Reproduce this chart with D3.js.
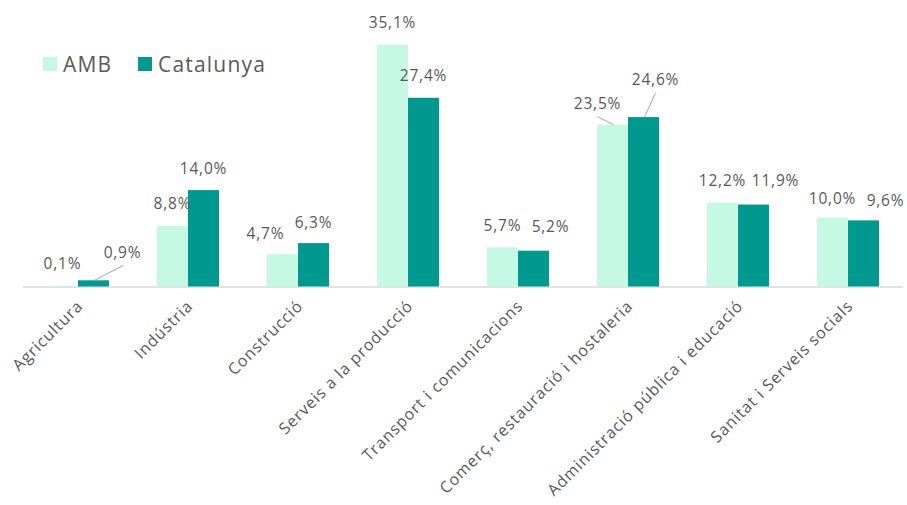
<!DOCTYPE html>
<html>
<head>
<meta charset="utf-8">
<script src="https://cdn.jsdelivr.net/npm/d3@7"></script>
<style>
  html, body { margin: 0; padding: 0; background: #fff; }
  svg text { font-family: "Open Sans", "Noto Sans", sans-serif; fill: #595959; }
</style>
</head>
<body>
<svg id="chart"></svg>
<script>
const categories = ["Agricultura", "Indústria", "Construcció", "Serveis a la producció",
  "Transport i comunicacions", "Comerç, restauració i hostaleria",
  "Administració pública i educació", "Sanitat i Serveis socials"];
const seriesNames = ["AMB", "Catalunya"];
const ambValues = [0.1, 8.8, 4.7, 35.1, 5.7, 23.5, 12.2, 10.0];
const catValues = [0.9, 14.0, 6.3, 27.4, 5.2, 24.6, 11.9, 9.6];

const WIDTH  = 907;
const HEIGHT = 505;
const COLORS = { AMB: "#c6f9e4", Catalunya: "#00988f" };

const svg = d3.select("#chart")
  .attr("width", WIDTH)
  .attr("height", HEIGHT);

const rows = categories.map((c, i) => ({ cat: c, AMB: ambValues[i], Catalunya: catValues[i] }));

const x0 = d3.scaleBand()
  .domain(categories)
  .range([23, 903])
  .paddingInner(0.436)
  .paddingOuter(0.218);

const x1 = d3.scaleBand()
  .domain(seriesNames)
  .range([0, x0.bandwidth()]);

const y = d3.scaleLinear()
  .domain([0, 40])
  .range([286.5, 11]);

// baseline
svg.append("line")
  .attr("x1", 23).attr("x2", 903)
  .attr("y1", y(0) + 0.5).attr("y2", y(0) + 0.5)
  .attr("stroke", "#d9d9d9")
  .attr("stroke-width", 1.5);

// bars
const groups = svg.append("g")
  .selectAll("g")
  .data(rows)
  .join("g")
  .attr("transform", d => "translate(" + x0(d.cat) + ",0)");

groups.selectAll("rect")
  .data(d => seriesNames.map(s => ({ key: s, value: d[s], cat: d.cat })))
  .join("rect")
  .attr("x", d => x1(d.key))
  .attr("y", d => y(d.value))
  .attr("width", x1.bandwidth())
  .attr("height", d => y(0) - y(d.value))
  .attr("fill", d => COLORS[d.key]);

// label nudges (Excel labels that were dragged by hand), [AMB, Catalunya] per category
const nudge = [
  [[0, 0], [29, -6]],
  [[0, 0], [0, 0]],
  [[-17, 1], [0, 1]],
  [[0, 0], [0, 0]],
  [[0, 0], [17, -2]],
  [[-15, 1], [12, -15]],
  [[0, 0], [22, -2]],
  [[0, 3], [22, 2]]
];
const fmt = v => d3.format(".1f")(v).replace(".", ",") + "%";

const labels = [];
rows.forEach((d, i) => {
  seriesNames.forEach((s, j) => {
    const cx = x0(d.cat) + x1(s) + x1.bandwidth() / 2;
    const top = y(d[s]);
    labels.push({
      text: fmt(d[s]),
      bx: cx, by: top,
      lx: cx + nudge[i][j][0],
      ly: top - 22 + nudge[i][j][1],
      leader: Math.hypot(nudge[i][j][0], nudge[i][j][1]) > 12 && (i === 0 || i === 5)
    });
  });
});

// leader lines
svg.append("g")
  .selectAll("line")
  .data(labels.filter(d => d.leader))
  .join("line")
  .attr("x1", d => d.bx + 1)
  .attr("y1", d => d.by)
  .attr("x2", d => d.lx - (d.bx < 200 ? -1 : 0))
  .attr("y2", d => d.ly + 13)
  .attr("stroke", "#a6a6a6")
  .attr("stroke-width", 1);

svg.append("g")
  .selectAll("text")
  .data(labels)
  .join("text")
  .attr("x", d => d.lx)
  .attr("y", d => d.ly)
  .attr("dy", "0.35em")
  .attr("text-anchor", "middle")
  .style("font-size", "15.5px")
  .style("letter-spacing", "0.8px")
  .text(d => d.text);

// category labels, rotated
svg.append("g")
  .selectAll("text")
  .data(categories)
  .join("text")
  .attr("transform", d => "translate(" + (x0(d) + x0.bandwidth() / 2 + 2) + ",303) rotate(-45)")
  .attr("text-anchor", "end")
  .attr("dy", "0.35em")
  .style("font-size", "16px")
  .style("letter-spacing", "0.9px")
  .text(d => d);

// legend
const legend = svg.append("g").attr("transform", "translate(43,57)");
const legendX = [0, 95];
seriesNames.forEach((s, i) => {
  const g = legend.append("g").attr("transform", "translate(" + legendX[i] + ",0)");
  g.append("rect")
    .attr("width", 14).attr("height", 14)
    .attr("fill", COLORS[s]);
  g.append("text")
    .attr("x", 20).attr("y", 7)
    .attr("dy", "0.36em")
    .style("font-size", "21px")
    .style("letter-spacing", "1.2px")
    .text(s);
});
</script>
</body>
</html>
